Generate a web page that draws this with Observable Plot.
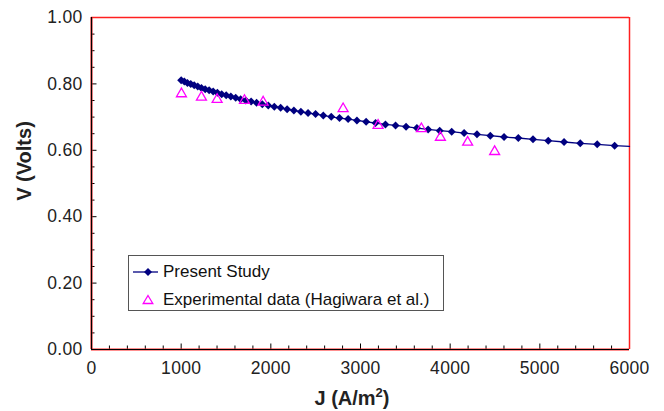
<!DOCTYPE html>
<html><head><meta charset="utf-8">
<script src="https://cdn.jsdelivr.net/npm/d3@7"></script>
<script src="https://cdn.jsdelivr.net/npm/@observablehq/plot@0.6"></script>
<style>
body{margin:0;background:#fff;}
#wrap{position:relative;width:664px;height:411px;font-family:"Liberation Sans",Arial,sans-serif;overflow:hidden}
#wrap svg text{letter-spacing:0.3px}
#legend{position:absolute;left:128px;top:255px;width:316px;height:56px;border:1px solid #555;background:#fff;font-size:17px;color:#111;box-sizing:border-box}
.lg{position:absolute;left:34px;white-space:nowrap;line-height:20px}
.ytitle{position:absolute;left:24px;top:161px;transform:translate(-50%,-50%) rotate(-90deg);font-weight:bold;font-size:20px;color:#222;white-space:nowrap}
.xtitle{position:absolute;left:352px;top:398px;transform:translate(-50%,-50%);font-weight:bold;font-size:20px;color:#222;white-space:nowrap}
.xtitle sup{font-size:13px;vertical-align:8px;line-height:0}
</style></head><body><div id="wrap"></div>
<script>
// Present Study (model) points
const studyJ=[1000,1035,1070,1107,1145,1185,1226,1268,1312,1357,1404,1452,1502,1554,1608,1663,1721,1780,1841,1905,1971,2039,2109,2182,2257,2335,2415,2499,2585,2674,2766,2862,2960,3063,3168,3278,3391,3508,3629,3754,3883,4017,4156,4299,4448,4601,4760,4924,5094,5270,5451,5640,5834];
const studyV=[0.811,0.807,0.803,0.800,0.796,0.792,0.788,0.784,0.781,0.777,0.773,0.769,0.766,0.762,0.758,0.754,0.750,0.747,0.743,0.739,0.735,0.731,0.728,0.724,0.720,0.716,0.712,0.709,0.705,0.701,0.697,0.694,0.690,0.686,0.682,0.678,0.675,0.671,0.667,0.663,0.659,0.656,0.652,0.648,0.644,0.640,0.637,0.633,0.629,0.625,0.621,0.618,0.614];
const lineEndJ=[6000];
const lineEndV=[0.612];
// Experimental data (Hagiwara et al.)
const expJ=[1003,1226,1401,1706,1914,2806,3196,3679,3891,4195,4496];
const expV=[0.770,0.760,0.753,0.750,0.745,0.725,0.675,0.665,0.639,0.624,0.596];
// ticks
const xTicks=[0,1000,2000,3000,4000,5000,6000];
const xMinor=[200,400,600,800,1200,1400,1600,1800,2200,2400,2600,2800,3200,3400,3600,3800,4200,4400,4600,4800,5200,5400,5600,5800];
const yTicks=[0,0.2,0.4,0.6,0.8,1.0];
const yMinor=[0.05,0.1,0.15,0.25,0.3,0.35,0.45,0.5,0.55,0.65,0.7,0.75,0.85,0.9,0.95];

const study=studyJ.map((j,i)=>({J:j,V:studyV[i]}));
const line=study.concat(lineEndJ.map((j,i)=>({J:j,V:lineEndV[i]})));
const exp=expJ.map((j,i)=>({J:j,V:expV[i]}));

const W=664,H=411,ML=91,MR=35,MT=17,MB=62;
const innerW=W-ML-MR, innerH=H-MT-MB;
const navy="#000080", mag="#ff00ff", red="#ff2020";

const chart=Plot.plot({
  width:W,height:H,marginLeft:ML,marginRight:MR,marginTop:MT,marginBottom:MB,
  style:{fontFamily:'"Liberation Sans",Arial,sans-serif',fontSize:"17.5px",color:"#222",background:"#fff",overflow:"visible"},
  x:{domain:[0,6000]},
  y:{domain:[0,1]},
  marks:[
    Plot.axisX(xTicks,{tickSize:0,tickPadding:12,fontSize:17.5,tickFormat:d=>String(d),label:null}),
    Plot.axisY(yTicks,{tickSize:0,tickPadding:9,fontSize:17.5,tickFormat:d=>d.toFixed(2),label:null}),
    Plot.tickX(xMinor,{x:d=>d,insetTop:innerH-3.5,stroke:"#000",strokeWidth:1}),
    Plot.tickX(xTicks,{x:d=>d,insetTop:innerH-5.5,stroke:"#000",strokeWidth:1}),
    Plot.tickY(yMinor,{y:d=>d,insetRight:innerW-3.5,stroke:"#000",strokeWidth:1}),
    Plot.tickY(yTicks,{y:d=>d,insetRight:innerW-5.5,stroke:"#000",strokeWidth:1}),
    Plot.ruleY([1],{stroke:red,strokeWidth:1.5}),
    Plot.ruleX([6000],{stroke:red,strokeWidth:1.5}),
    Plot.ruleY([0],{stroke:red,strokeWidth:2}),
    Plot.ruleX([0],{stroke:red,strokeWidth:2}),
    Plot.ruleY([0],{stroke:"#000",strokeWidth:1.2}),
    Plot.ruleX([0],{stroke:"#000",strokeWidth:1.2}),
    Plot.line(line,{x:"J",y:"V",stroke:navy,strokeWidth:1.3}),
    Plot.dot(study,{x:"J",y:"V",symbol:"diamond2",r:3.6,fill:navy,stroke:"none"}),
    Plot.dot(exp,{x:"J",y:"V",symbol:"triangle",r:3.7,fill:"none",stroke:mag,strokeWidth:1.3})
  ]
});
const wrap=document.getElementById("wrap");
wrap.appendChild(chart);

const yt=document.createElement("div");yt.className="ytitle";yt.textContent="V (Volts)";wrap.appendChild(yt);
const xt=document.createElement("div");xt.className="xtitle";xt.innerHTML="J (A/m<sup>2</sup>)";wrap.appendChild(xt);

const lg=document.createElement("div");lg.id="legend";
lg.innerHTML=`
<svg width="32" height="54" style="position:absolute;left:0;top:0">
 <line x1="4" y1="16" x2="29" y2="16" stroke="${navy}" stroke-width="1.3"/>
 <path d="M19,12 L23,16 L19,20 L15,16 Z" fill="${navy}"/>
 <path d="M19,39.5 L23.8,47.5 L14.2,47.5 Z" fill="none" stroke="${mag}" stroke-width="1.3"/>
</svg>
<div class="lg" style="top:6px">Present Study</div>
<div class="lg" style="top:34px">Experimental data (Hagiwara et al.)</div>`;
wrap.appendChild(lg);
</script>
</body></html>
